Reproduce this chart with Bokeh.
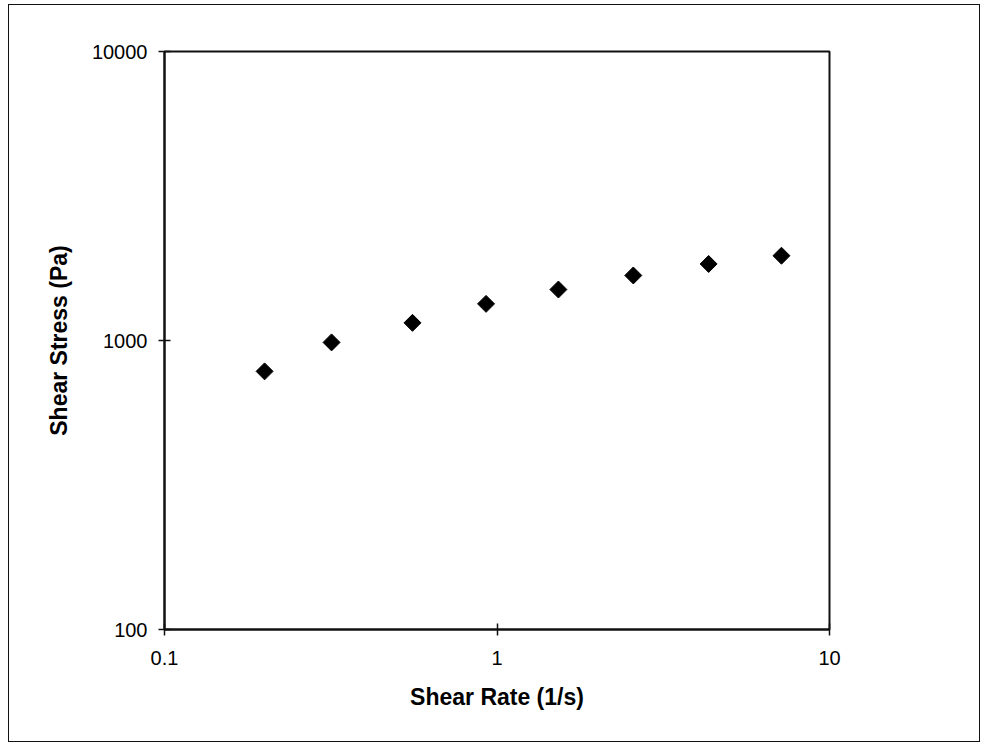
import math
from bokeh.plotting import figure
from bokeh.models import FixedTicker, Range1d
from bokeh.embed import file_html
from bokeh.resources import INLINE

# Data
shear_rate = [0.20, 0.318, 0.557, 0.927, 1.53, 2.57, 4.33, 7.17]
shear_stress = [782, 985, 1151, 1339, 1501, 1679, 1840, 1965]

x_ticks = [0.1, 1, 10]
x_tick_labels = ["0.1", "1", "10"]
y_ticks = [100, 1000, 10000]
y_tick_labels = ["100", "1000", "10000"]

FONT = "Liberation Sans"

p = figure(
    width=972, height=738,
    x_axis_type="log", y_axis_type="log",
    x_range=Range1d(0.1, 10), y_range=Range1d(100, 10000),
    output_backend="svg", toolbar_location=None,
    min_border_left=155, min_border_right=152,
    min_border_top=46, min_border_bottom=114,
)
p.margin = (4, 0, 0, 8)
p.styles = {"border": "1.5px solid #111"}

p.background_fill_color = "white"
p.border_fill_color = "white"
p.outline_line_color = "#111"
p.outline_line_width = 2
p.xgrid.visible = False
p.ygrid.visible = False

for ax in (p.xaxis[0], p.yaxis[0]):
    ax.axis_line_color = "#111"
    ax.axis_line_width = 2
    ax.major_tick_in = 6
    ax.major_tick_out = 6
    ax.major_tick_line_color = "#111"
    ax.major_tick_line_width = 1.5
    ax.minor_tick_line_color = None
    ax.major_label_text_font = FONT
    ax.major_label_text_font_size = "20px"
    ax.major_label_text_color = "black"
    ax.axis_label_text_font = FONT
    ax.axis_label_text_font_style = "bold"
    ax.axis_label_text_font_size = "23px"
    ax.axis_label_text_color = "black"

p.xaxis.ticker = FixedTicker(ticks=x_ticks)
p.xaxis.major_label_overrides = {t: l for t, l in zip(x_ticks, x_tick_labels)}
p.yaxis.ticker = FixedTicker(ticks=y_ticks)
p.yaxis.major_label_overrides = {t: l for t, l in zip(y_ticks, y_tick_labels)}

p.xaxis.axis_label = "Shear Rate (1/s)"
p.yaxis.axis_label = "Shear Stress (Pa)"
p.xaxis.major_label_standoff = 15
p.xaxis.axis_label_standoff = 16
p.yaxis.major_label_standoff = 11
p.yaxis.axis_label_standoff = 17

p.scatter(shear_rate, shear_stress, marker="square", angle=math.pi / 4,
          size=12, fill_color="black", line_color="black")

open("out.html", "w").write(file_html(p, INLINE))
